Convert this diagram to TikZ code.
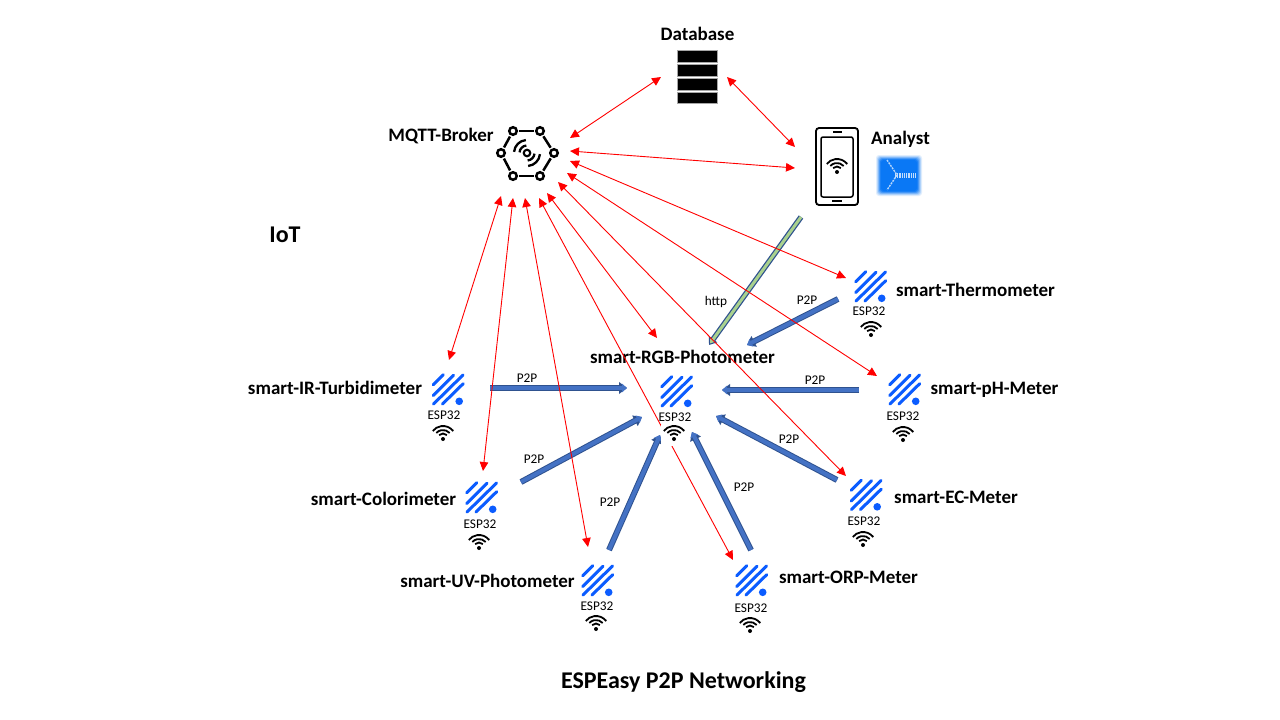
\documentclass[tikz,border=0pt]{standalone}
\usepackage{fontspec}
\setmainfont{Carlito}
\usetikzlibrary{arrows.meta}
\definecolor{espblue}{HTML}{0B5CFF}
\definecolor{arrowfill}{HTML}{4472C4}
\definecolor{arrowline}{HTML}{2F528F}
\definecolor{greenfill}{HTML}{A9D18E}
\definecolor{tileblue}{HTML}{0A78F5}
\tikzset{
  title/.style={font=\bfseries\fontsize{19}{22}\selectfont,inner sep=0pt,anchor=base},
  bigtitle/.style={font=\bfseries\fontsize{24}{27}\selectfont,inner sep=0pt,anchor=base},
  small/.style={font=\fontsize{13.3}{15}\selectfont,inner sep=0pt},
  redlink/.style={draw=red,line width=0.9pt,{Triangle[length=9pt,width=8.5pt]}-{Triangle[length=9pt,width=8.5pt]},shorten <=0pt,shorten >=0pt},
  fatlink/.style={line width=4pt,draw=arrowfill,-{Triangle[length=5pt,width=8.5pt,fill=arrowfill]},
    preaction={draw=arrowline,line width=6pt,-{Triangle[length=8pt,width=11.5pt,fill=arrowline]}}},
  greenlink/.style={line width=3pt,draw=greenfill,shorten >=2pt,-{Triangle[length=4pt,width=5.5pt,fill=greenfill]},
    preaction={draw=arrowline,line width=5.5pt,shorten >=0pt,-{Triangle[length=7pt,width=10pt,fill=arrowline]}}},
  pics/espicon/.style={code={
    \begin{scope}[y=1pt,x=1pt]
      \draw[espblue,line width=3pt,line cap=round] (-14.3,5.3)--(-4.3,15.3) (-14.3,-5.5)--(6,14.7) (-14,-14)--(15.5,15) (-5,-14)--(15.7,6.3);
      \fill[espblue] (11.7,-11.3) circle[radius=3.8pt];
    \end{scope}}},
  pics/wifi/.style={code={
    \fill[white] (-13pt,-7pt) rectangle (15pt,14pt);
    \fill[black] (0,0) circle[radius=2pt];
    \draw[black,line width=1.8pt] (45:5.5pt) arc[start angle=45,end angle=135,radius=5.5pt];
    \draw[black,line width=1.8pt] (42:9pt) arc[start angle=42,end angle=138,radius=9pt];
    \draw[black,line width=1.8pt] (38:13pt) arc[start angle=38,end angle=142,radius=13pt];
  }},
  hub/.style={circle,draw=black,line width=2.5pt,minimum size=7.5pt,inner sep=0pt,fill=white},
}
\begin{document}
\begin{tikzpicture}[x=1pt,y=-1pt]
\useasboundingbox (0,0) rectangle (1280,720);
\fill[white] (0,0) rectangle (1280,720);

% Database
\foreach \i/\a/\b in {1/50/62,2/64/76,3/78/90,4/92/103}
  \draw[draw=gray!70,fill=black,line width=0.7pt] (677,\a) rectangle (717,\b);
\node[title] (dbt) at (697.5,40) {Database};

% MQTT broker
\node[hub] (h1) at (513,131) {};
\node[hub] (h2) at (540,131) {};
\node[hub] (h3) at (554,153) {};
\node[hub] (h4) at (540,176) {};
\node[hub] (h5) at (513,176) {};
\node[hub] (h6) at (501,153) {};
\foreach \p/\q in {h1/h2,h2/h3,h3/h4,h4/h5,h5/h6,h6/h1}
  \draw[black,line width=2.5pt,shorten >=1.3pt,shorten <=1.3pt] (\p)--(\q);
\node[circle,draw=black,line width=2.1pt,minimum size=6.5pt,inner sep=0pt] (hc) at (527,153) {};
\foreach \r in {7.5,13}{
  \draw[black,line width=2.3pt] (hc.center) ++(95:\r pt) arc[start angle=95,end angle=175,radius=\r pt];
  \draw[black,line width=2.3pt] (hc.center) ++(-85:\r pt) arc[start angle=-85,end angle=-5,radius=\r pt];
}
\node[title] (mqtt) at (441,141) {MQTT-Broker};

% Phone
\draw[black,line width=1.8pt,rounded corners=3pt] (816,128) rectangle (858,205);
\draw[black,line width=1.5pt,rounded corners=2pt] (821,137) rectangle (853,197);
\draw[black,line width=1.3pt] (833,132)--(842,132) (832,201)--(842,201);
\pic at (837,172) {wifi};
\node[title] (analyst) at (900.5,144) {Analyst};

% Blue tile
\foreach \d/\o in {0/0.12,1/0.2,2/0.3,3/0.45,4/0.7,5/1}
  \fill[tileblue,opacity=\o,rounded corners=3pt] (876+\d,155+\d) rectangle (922-\d,196-\d);
\draw[white!70!tileblue,line width=1.4pt,dash pattern=on 2pt off 1pt] (887,160)--(897,175)--(887,190);
\draw[white!75!tileblue,line width=5pt,dash pattern=on 1pt off 0.8pt] (895,175)--(915,175);

\node[bigtitle] (iot) at (285,242) {IoT};
\node[bigtitle] (net) at (683.5,688) {ESPEasy P2P Networking};

% Device labels
\node[title] (rgb) at (682.5,363.5) {smart-RGB-Photometer};
\node[title] (ir) at (335,394) {smart-IR-Turbidimeter};
\node[title] (col) at (383.5,505) {smart-Colorimeter};
\node[title] (uv) at (487.5,587) {smart-UV-Photometer};
\node[title] (orp) at (848.5,583.5) {smart-ORP-Meter};
\node[title] (ec) at (956,503) {smart-EC-Meter};
\node[title] (ph) at (994.5,394) {smart-pH-Meter};
\node[title] (th) at (975.5,296) {smart-Thermometer};

% Connector ends
\coordinate (dbL) at (661,77);
\coordinate (dbR) at (727,77);
\coordinate (mDb) at (570,138);
\coordinate (mPh) at (570,151);
\coordinate (phA) at (795,147);
\coordinate (phB) at (795,168);
\coordinate (mTh) at (570,161);
\coordinate (thE) at (846,278);
\coordinate (mPh2) at (567,173);
\coordinate (phE) at (877,376);
\coordinate (mEc) at (558,182);
\coordinate (ecE) at (846,476);
\coordinate (mRgb) at (547,193);
\coordinate (rgbE) at (657,338);
\coordinate (mOrp) at (539,198);
\coordinate (orpE) at (733,560);
\coordinate (mUv) at (525,198);
\coordinate (uvE) at (588,547);
\coordinate (mCol) at (513,198);
\coordinate (colE) at (483,471);
\coordinate (mIr) at (501,196);
\coordinate (irE) at (449,360);

\coordinate (bThA) at (838,299);
\coordinate (bThB) at (747,345);
\coordinate (bAnA) at (801,217);
\coordinate (bAnB) at (709,345);
\coordinate (bIrA) at (490,388);
\coordinate (bIrB) at (627,388);
\coordinate (bColA) at (521,482);
\coordinate (bColB) at (642,417);
\coordinate (bUvA) at (609,550);
\coordinate (bUvB) at (660,435);
\coordinate (bPhA) at (859,390);
\coordinate (bPhB) at (722,390);
\coordinate (bEcA) at (837,480);
\coordinate (bEcB) at (716,416);
\coordinate (bOrA) at (751,550);
\coordinate (bOrB) at (692,432);

% Thick arrows
\draw[greenlink] (bAnA)--(bAnB);
\draw[fatlink] (bThA)--(bThB);
\draw[fatlink] (bIrA)--(bIrB);
\draw[fatlink] (bColA)--(bColB);
\draw[fatlink] (bUvA)--(bUvB);
\draw[fatlink] (bPhA)--(bPhB);
\draw[fatlink] (bEcA)--(bEcB);
\draw[fatlink] (bOrA)--(bOrB);

% Red links
\draw[redlink] (mDb)--(dbL);
\draw[redlink] (dbR)--(phA);
\draw[redlink] (mPh)--(phB);
\draw[redlink] (mTh)--(thE);
\draw[redlink] (mPh2)--(phE);
\draw[redlink] (mEc)--(ecE);
\draw[redlink] (mRgb)--(rgbE);
\draw[redlink] (mOrp)--(orpE);
\draw[redlink] (mUv)--(uvE);
\draw[redlink] (mCol)--(colE);
\draw[redlink] (mIr)--(irE);

% ESP32 devices
\foreach \n/\ix/\iy/\lx/\ly/\wx/\wy in {
  r/676/392/675/417/674/439,
  i/447.5/390/444/415.5/443/439,
  c/481/498/480/524.5/479/548,
  u/597/581/597/606/596/629,
  o/751/581/751/608/750/631,
  e/865.5/495.5/864/521.5/863/545,
  p/904/390/903/416.5/903/440,
  t/870/287/869/311.5/871/335}{
  \pic at (\ix,\iy) {espicon};
  \node[small] (esp\n) at (\lx,\ly) {ESP32};
  \pic at (\wx,\wy) {wifi};
}

% Link labels
\node[small] (l1) at (527,378.5) {P2P};
\node[small] (l2) at (534,459) {P2P};
\node[small] (l3) at (610,502.5) {P2P};
\node[small] (l4) at (744,487.5) {P2P};
\node[small] (l5) at (789,439.5) {P2P};
\node[small] (l6) at (815,380.5) {P2P};
\node[small] (l7) at (807,300.5) {P2P};
\node[small] (l8) at (716,301.5) {http};
\end{tikzpicture}
\end{document}
